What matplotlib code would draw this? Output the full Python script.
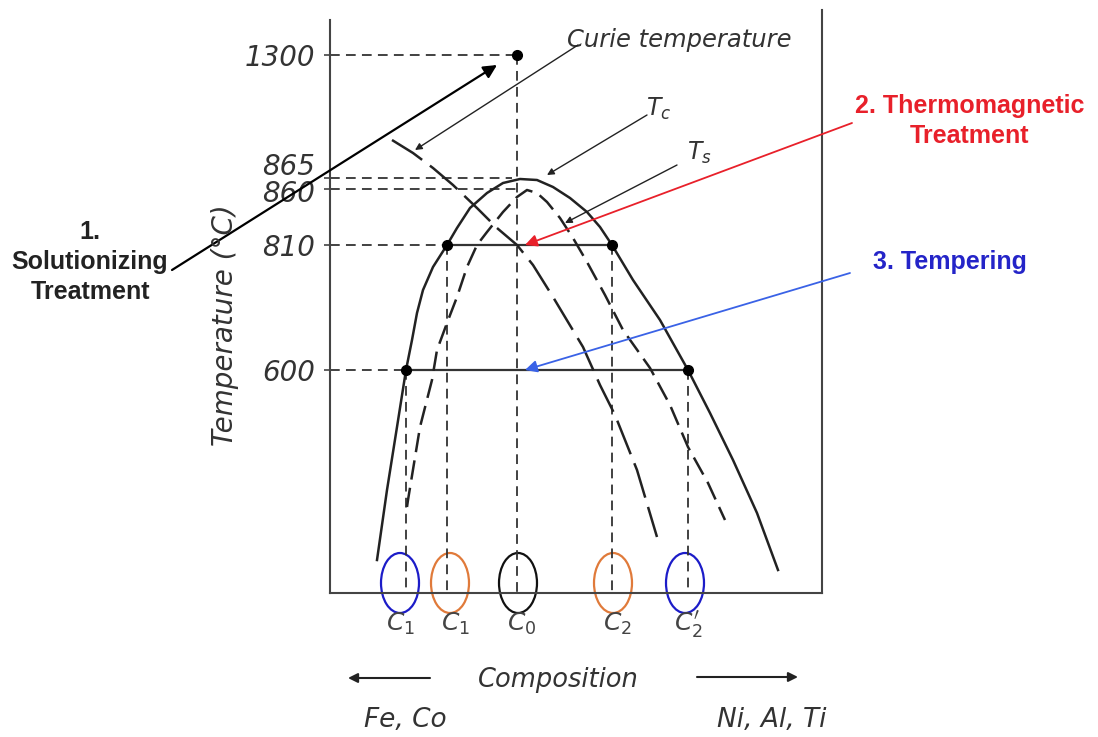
import matplotlib
matplotlib.use("Agg")
import matplotlib.pyplot as plt
import matplotlib.transforms as mtransforms
from matplotlib.patches import Ellipse

plt.rcParams['font.family'] = ['DejaVu Sans']
plt.rcParams['lines.scale_dashes'] = False
plt.rcParams['mathtext.fontset'] = 'dejavusans'

# schematic coordinates: composition (arbitrary units) x diagram height
# temperature ticks (height, label)
temp_heights = [538, 415, 404, 348, 223]
temp_labels = ['1300', '865', '860', '810', '600']
guide_ends = [187, 182, 187, 117, 76]

# miscibility gap boundary Tc (solid)
tc_x = [47, 57, 67, 76, 82, 87, 93, 103, 117, 127, 140, 157, 173, 190, 207, 223, 240,
        257, 270, 282, 303, 330, 358, 380, 403, 427, 448]
tc_y = [33, 103, 166, 223, 253, 280, 303, 326, 348, 365, 385, 400, 410, 414, 413, 406,
        395, 381, 366, 348, 313, 273, 223, 180, 133, 80, 23]

# spinodal Ts (dashed)
ts_x = [77, 78, 90, 102, 107, 117, 127, 137, 147, 157, 173, 187, 197, 207, 217, 230,
        243, 257, 275, 293, 320, 340, 358, 378, 395]
ts_y = [86, 93, 166, 213, 243, 270, 296, 326, 348, 361, 381, 396, 403, 400, 391, 375,
        355, 331, 298, 263, 225, 188, 146, 110, 73]

# Curie temperature (long dashes)
curie_x = [62, 83, 103, 123, 147, 167, 187, 203, 223, 253, 270, 285, 307, 327]
curie_y = [453, 440, 425, 408, 385, 365, 348, 328, 296, 246, 208, 178, 123, 56]

# state points
pt_x = [187, 117, 282, 76, 358]
pt_y = [538, 348, 348, 223, 223]

# tie lines at 810 and 600
tie_y = [348, 223]
tie_x0 = [117, 76]
tie_x1 = [282, 358]

# compositions marked at the bottom
comp_x = [70, 120, 188, 283, 355]
comp_colors = ['#1c1cc8', '#e07a3a', '#111111', '#e07a3a', '#1c1cc8']
comp_labels_x = [70, 125, 192, 287, 358]
comp_labels = [r'$C_1$', r'$C_1$', r'$C_0$', r'$C_2$', r"$C_2'$"]

ink = '#222222'
txt = '#333333'

fig = plt.figure(figsize=(10.98, 7.37), dpi=100)
ax = fig.add_axes([330 / 1098, 144 / 737, 492 / 1098, 583 / 737])
ax.set_xlim(0, 492)
ax.set_ylim(0, 583)

for s in ['left', 'right', 'bottom']:
    ax.spines[s].set_color('#444444')
    ax.spines[s].set_linewidth(1.5)
ax.spines['top'].set_visible(False)
ax.spines['left'].set_bounds(0, 573)

ax.set_xticks([])
ax.set_yticks(temp_heights)
ax.set_yticklabels(temp_labels, fontsize=20, style='italic', color=txt)
ax.tick_params(axis='y', length=4, width=1.2, color='#444444', pad=7)
# 865 label sits just above its guide line, 860 just below
labels = ax.get_yticklabels()
for lbl, dy in [(labels[1], 14), (labels[2], -2)]:
    lbl.set_transform(lbl.get_transform() + mtransforms.ScaledTranslation(0, dy / 100, fig.dpi_scale_trans))

guide = dict(color=txt, lw=1.3, ls=(0, (7, 4.5)))

# horizontal guides
for h, e in zip(temp_heights, guide_ends):
    ax.plot([0, e], [h, h], **guide)
# vertical guides down to the composition axis
for x, y in zip(pt_x, pt_y):
    ax.plot([x, x], [y, 0], **guide)

# tie lines
for y, a, b in zip(tie_y, tie_x0, tie_x1):
    ax.plot([a, b], [y, y], color=txt, lw=1.6)

curve = dict(color=ink, lw=1.8, solid_joinstyle='round', dash_joinstyle='round')
ax.plot(tc_x, tc_y, **curve)
ax.plot(ts_x, ts_y, ls=(0, (14, 6)), **curve)
ax.plot(curie_x, curie_y, ls=(0, (26, 7)), **curve)

ax.plot(pt_x, pt_y, 'o', color='black', ms=7, zorder=5)

for x, c in zip(comp_x, comp_colors):
    ax.add_patch(Ellipse((x, 10), 38, 60, fill=False, ec=c, lw=1.6, clip_on=False))
for x, t in zip(comp_labels_x, comp_labels):
    ax.text(x, -31, t, fontsize=18, color='#444444', ha='center', va='center')

# leaders
def leader(start, tip, color=ink, lw=1.0, ms=10):
    ax.annotate('', xy=tip, xytext=start, annotation_clip=False,
                arrowprops=dict(arrowstyle='-|>', color=color, lw=lw,
                                mutation_scale=ms, shrinkA=0, shrinkB=0))

ax.text(237, 553, 'Curie temperature', fontsize=17.5, style='italic', color=txt,
        ha='left', va='center')
leader((248, 548), (85, 443))
ax.text(316, 484, r'$T_c$', fontsize=17, color=txt, ha='left', va='center')
leader((317, 478), (217, 418))
ax.text(357, 440, r'$T_s$', fontsize=17, color=txt, ha='left', va='center')
leader((347, 428), (235, 370))

# treatment steps
bold = dict(fontsize=18, fontweight='bold', family='Liberation Sans',
            ha='center', va='center', linespacing=1.32)
leader((-158, 323), (167, 528), color='black', lw=1.6, ms=20)
ax.text(-240, 331, '1.\nSolutionizing\nTreatment', color='#222222', **bold)

leader((522, 470), (195, 348), color='#e8202a', lw=1.3, ms=18)
ax.text(640, 472, '2. Thermomagnetic\nTreatment', color='#e8202a', **bold)

leader((520, 320), (195, 223), color='#3a62e6', lw=1.3, ms=18)
ax.text(620, 331, '3. Tempering', color='#2424c8', **bold)

# axis titles
ax.text(-105, 268, 'Temperature (°C)', fontsize=20, style='italic', color=txt,
        rotation=90, ha='center', va='center')
ax.text(228, -87, 'Composition', fontsize=18.5, style='italic', color=txt,
        ha='center', va='center')
leader((100, -85), (18, -85), color='#222222', lw=1.5, ms=14)
leader((367, -84), (468, -84), color='#222222', lw=1.5, ms=14)
ax.text(75, -127, 'Fe, Co', fontsize=19, style='italic', color=txt,
        ha='center', va='center')
ax.text(442, -127, 'Ni, Al, Ti', fontsize=19, style='italic', color=txt,
        ha='center', va='center')

fig.savefig('out.png', dpi=100)
